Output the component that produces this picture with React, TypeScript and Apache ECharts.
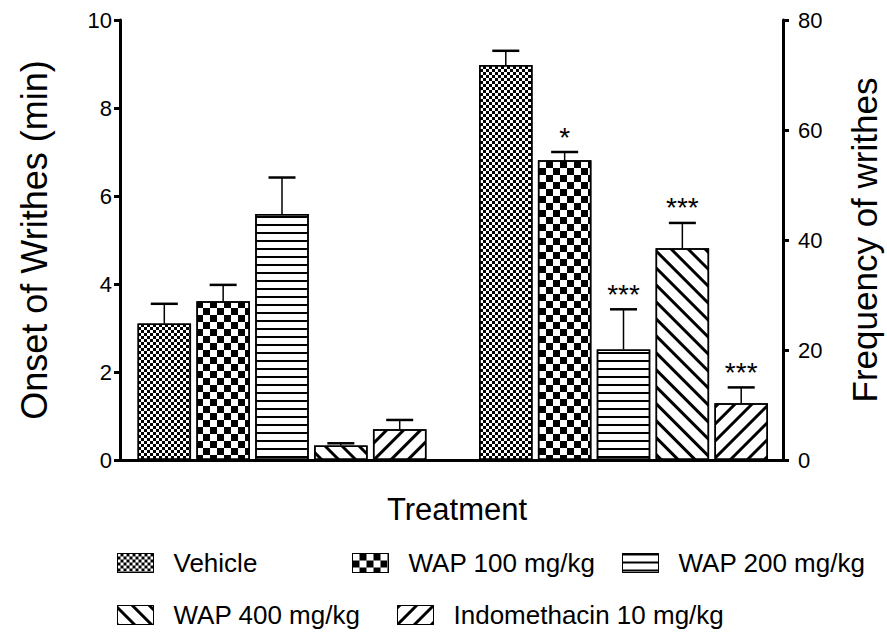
import React, { useEffect, useRef } from 'react';
import * as echarts from 'echarts';

// ---- data ----
const treatments = ['Vehicle', 'WAP 100 mg/kg', 'WAP 200 mg/kg', 'WAP 400 mg/kg', 'Indomethacin 10 mg/kg'];
const onsetMean = [3.1, 3.61, 5.59, 0.33, 0.7];
const onsetUpper = [3.55, 3.98, 6.42, 0.38, 0.91];
const freqMean = [71.8, 54.5, 20.1, 38.5, 10.3];
const freqUpper = [74.4, 56.0, 27.4, 43.1, 13.2];
const onsetStars = ['', '', '', '', ''];
const freqStars = ['', '*', '***', '***', '***'];
const onsetAxis = { min: 0, max: 10, interval: 2 };
const freqAxis = { min: 0, max: 80, interval: 20 };

// ---- styles ----
const FONT = 'Liberation Sans, Arial, Helvetica, sans-serif';
const BAR_W = 53.5;
const BAR_GAP = 0.1;
const SLOT = BAR_W * (1 + BAR_GAP);

const decals: any[] = [
  { symbol: 'rect', symbolSize: 1, dashArrayX: [[3, 3], [0, 3, 3, 0]], dashArrayY: [3, 0], color: '#000', backgroundColor: '#fff' },
  { symbol: 'rect', symbolSize: 1, dashArrayX: [[7, 7], [0, 7, 7, 0]], dashArrayY: [7, 0], color: '#000', backgroundColor: '#fff' },
  { symbol: 'rect', symbolSize: 1, dashArrayX: [1, 0], dashArrayY: [1.5, 5.5], rotation: 0, color: '#000', backgroundColor: '#fff' },
  { symbol: 'rect', symbolSize: 1, dashArrayX: [1, 0], dashArrayY: [2.5, 9], rotation: Math.PI / 4, color: '#000', backgroundColor: '#fff' },
  { symbol: 'rect', symbolSize: 1, dashArrayX: [1, 0], dashArrayY: [2.5, 9], rotation: -Math.PI / 4, color: '#000', backgroundColor: '#fff' },
];

const legendPos = [
  [117, 550],
  [352, 550],
  [622, 550],
  [117, 602],
  [397, 602],
];

function errSeries(gridIdx: number, means: number[], uppers: number[], stars: string[]) {
  return {
    type: 'custom',
    xAxisIndex: gridIdx,
    yAxisIndex: gridIdx,
    clip: false,
    z: 5,
    silent: true,
    data: means.map((m, i) => [0, m, uppers[i], i]),
    renderItem: (params: any, api: any) => {
      const i = api.value(3);
      const base = api.coord([0, api.value(1)]);
      const top = api.coord([0, api.value(2)]);
      const x = base[0] + (i - 2) * SLOT;
      const children: any[] = [
        { type: 'line', shape: { x1: x, y1: base[1], x2: x, y2: top[1] }, style: { stroke: '#000', lineWidth: 1.5 } },
        { type: 'line', shape: { x1: x - 13.5, y1: top[1], x2: x + 13.5, y2: top[1] }, style: { stroke: '#000', lineWidth: 2.5 } },
      ];
      if (stars[i]) {
        children.push({
          type: 'text',
          x,
          y: top[1] - 15,
          style: { text: stars[i], fontSize: 28, fill: '#000', align: 'center', verticalAlign: 'middle', fontFamily: FONT },
        });
      }
      return { type: 'group', children };
    },
  };
}

const axisLineStyle = { show: true, lineStyle: { color: '#000', width: 3 } };

export default function App() {
  const ref = useRef<HTMLDivElement>(null);
  useEffect(() => {
    if (!ref.current) return;
    const chart = echarts.init(ref.current, undefined, { renderer: 'svg' });
    const series: any[] = [];
    treatments.forEach((name, i) => {
      series.push({
        type: 'bar', name, xAxisIndex: 0, yAxisIndex: 0, data: [onsetMean[i]],
        barWidth: BAR_W, barGap: BAR_GAP * 100 + '%',
        itemStyle: { color: '#fff', borderColor: '#000', borderWidth: 1.5, decal: decals[i] },
      });
    });
    treatments.forEach((name, i) => {
      series.push({
        type: 'bar', name, xAxisIndex: 1, yAxisIndex: 1, data: [freqMean[i]],
        barWidth: BAR_W, barGap: BAR_GAP * 100 + '%',
        itemStyle: { color: '#fff', borderColor: '#000', borderWidth: 1.5, decal: decals[i] },
      });
    });
    series.push(errSeries(0, onsetMean, onsetUpper, onsetStars));
    series.push(errSeries(1, freqMean, freqUpper, freqStars));

    const option: any = {
      animation: false,
      backgroundColor: '#fff',
      textStyle: { fontFamily: FONT, color: '#000' },
      title: {
        text: 'Treatment', left: 387, top: 494, padding: 0,
        textStyle: { fontSize: 31, fontWeight: 'normal', color: '#000', fontFamily: FONT },
      },
      legend: treatments.map((name, i) => ({
        data: [name], left: legendPos[i][0], top: legendPos[i][1], padding: 0,
        icon: 'rect', itemWidth: 36, itemHeight: 19, selectedMode: false,
        itemStyle: { borderColor: '#000', borderWidth: 1 },
        textStyle: { fontSize: 26, color: '#000', fontFamily: FONT, padding: [0, 0, 0, 15] },
      })),
      grid: [
        { left: 120, top: 20, width: 324, height: 440 },
        { left: 464, top: 20, width: 319, height: 440 },
        { left: 120, top: 20, width: 663, height: 440 },
      ],
      xAxis: [
        { gridIndex: 0, type: 'category', data: ['Onset'], show: false },
        { gridIndex: 1, type: 'category', data: ['Frequency'], show: false },
        { gridIndex: 2, type: 'category', data: [''], axisLine: axisLineStyle, axisTick: { show: false }, axisLabel: { show: false } },
      ],
      yAxis: [
        {
          gridIndex: 0, type: 'value', position: 'left', ...onsetAxis,
          axisLine: axisLineStyle, axisTick: { show: true, length: 6, lineStyle: { color: '#000', width: 3 } },
          axisLabel: { fontSize: 22, color: '#000', margin: 8, fontFamily: FONT },
          splitLine: { show: false },
          name: 'Onset of Writhes (min)', nameLocation: 'middle', nameGap: 68, nameRotate: 90,
          nameTextStyle: { fontSize: 36, color: '#000', fontFamily: FONT },
        },
        {
          gridIndex: 1, type: 'value', position: 'right', ...freqAxis,
          axisLine: axisLineStyle, axisTick: { show: true, length: 6, lineStyle: { color: '#000', width: 3 } },
          axisLabel: { fontSize: 22, color: '#000', margin: 15, fontFamily: FONT },
          splitLine: { show: false },
          name: 'Frequency of writhes', nameLocation: 'middle', nameGap: 64, nameRotate: 90,
          nameTextStyle: { fontSize: 35, color: '#000', fontFamily: FONT },
        },
        { gridIndex: 2, type: 'value', show: false },
      ],
      series,
    };
    chart.setOption(option);
    return () => chart.dispose();
  }, []);
  return <div ref={ref} style={{ position: 'fixed', left: 0, top: 0, width: 887, height: 633, background: '#fff' }} />;
}
